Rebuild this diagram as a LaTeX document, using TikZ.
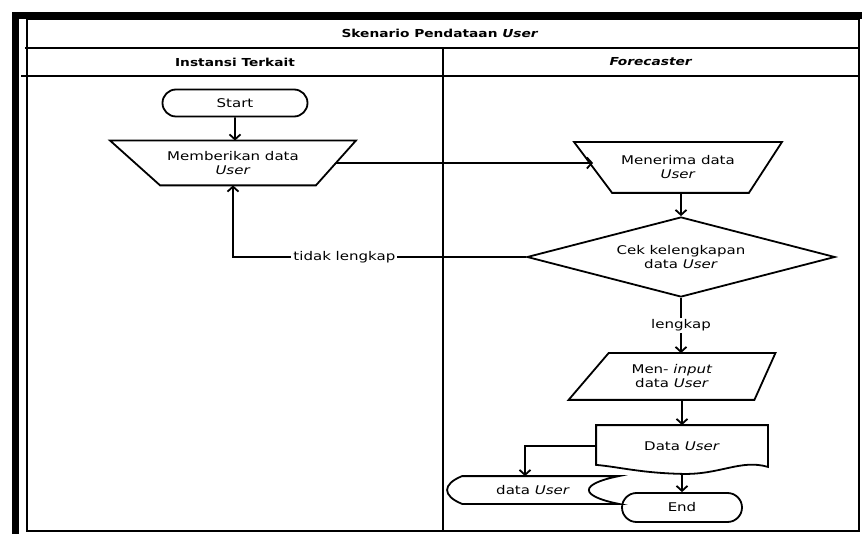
\documentclass[tikz,border=0pt]{standalone}
\usepackage{fontspec}
\setmainfont{DejaVu Sans}
\newfontfamily\flowfont{DejaVu Sans}[FakeStretch=1.25]
\usetikzlibrary{shapes.geometric,shapes.misc,arrows.meta,calc}

\tikzset{
  flowtext/.style={font=\flowfont\fontsize{12}{14}\selectfont,align=center},
  lanetitle/.style={font=\flowfont\bfseries\fontsize{11}{13}\selectfont},
  terminal/.style={draw,rounded rectangle,flowtext,inner sep=0pt},
  decision/.style={draw,diamond,aspect=3.85,flowtext,inner sep=0pt},
  plainbox/.style={flowtext,inner sep=0pt},
  edgelabel/.style={flowtext,fill=white,inner sep=2pt}
}

\begin{document}
\begin{tikzpicture}[x=1pt,y=-1pt,line width=1.8pt,>={Straight Barb[length=5pt,width=11pt]}]
    \useasboundingbox (0,0) rectangle (862,534);

    % frame and swimlanes
    \fill (12,12) rectangle (862,19);
    \fill (12,12) rectangle (19,534);
    \draw[line width=1.8pt] (27,19) rectangle (859,531);
    \draw[line width=1.8pt] (25,48) -- (859,48);
    \draw[line width=1.8pt] (21,76) -- (859,76);
    \draw[line width=2.2pt] (443,48) -- (443,531);

    \node[lanetitle] (title) at (440,33) {Skenario Pendataan \textit{User}};
    \node[lanetitle] (laneA) at (235,62) {Instansi Terkait};
    \node[lanetitle] (laneB) at (651,62) {\textit{Forecaster}};

    % Instansi Terkait
    \node[terminal,minimum width=145pt,minimum height=27pt] (start) at (235,103) {Start};
    \node[plainbox,minimum width=244pt,minimum height=43pt] (give) at (233,163) {Memberikan data\\\textit{User}};

    % Forecaster
    \node[plainbox,minimum width=206pt,minimum height=49pt] (recv) at (678,167.5) {Menerima data\\\textit{User}};
    \node[decision,minimum width=308pt,minimum height=80pt] (cek) at (681,257) {Cek kelengkapan\\data \textit{User}};
    \node[plainbox,minimum width=205pt,minimum height=45pt] (input) at (672,376.5) {Men- \textit{input}\\data \textit{User}};
    \node[plainbox,minimum width=170pt,minimum height=40pt] (doc) at (682,446) {Data \textit{User}};
    \node[plainbox,minimum width=170pt,minimum height=26pt] (store) at (533,490) {data \textit{User}};
    \node[terminal,minimum width=120pt,minimum height=29pt] (end) at (682,507.5) {End};

    % outlines of the manual, input, document and stored data shapes
    \draw (give.north west) -- (give.north east) -- ([xshift=-40pt]give.south east) -- ([xshift=50pt]give.south west) -- cycle;
    \draw (recv.north west) -- (recv.north east) -- ([xshift=-33pt]recv.south east) -- ([xshift=38pt]recv.south west) -- cycle;
    \draw ([xshift=40pt]input.north west) -- (input.north east) -- ([xshift=-21pt]input.south east) -- (input.south west) -- cycle;
    \draw (doc.south east) .. controls +(-27,-8) and +(38,1) .. ([yshift=-7pt]doc.south)
      .. controls +(-42,-1) and +(23,2) .. ([yshift=2pt]doc.south west)
      -- (doc.north west) -- (doc.north east) -- cycle;
    \draw ([xshift=15pt]store.north west) -- (store.north east)
      .. controls +(-40,8) and +(-40,-8) .. (store.south east)
      -- ([xshift=15pt]store.south west)
      .. controls +(-20,-8) and +(-20,8) .. ([xshift=15pt]store.north west) -- cycle;

    % connectors
    \draw[->] (start) -- (start |- give.north);
    \draw[->] ([xshift=-20pt]give.east) -- ([xshift=19pt]recv.west |- give.east);
    \draw[->] (cek.north |- recv.south) -- (cek.north);
    \draw[->] (cek.west) -| node[edgelabel,pos=0.31] {tidak lengkap} (give.south);
    \draw[->] (cek.south) -- node[edgelabel] {lengkap} (cek.south |- input.north);
    \draw[->] (doc.north |- input.south) -- (doc.north);
    \draw[->] ([yshift=-7pt]doc.south) -- (end.north);
    \draw[->] (doc.west) -| ([xshift=-8pt]store.north);
\end{tikzpicture}
\end{document}
